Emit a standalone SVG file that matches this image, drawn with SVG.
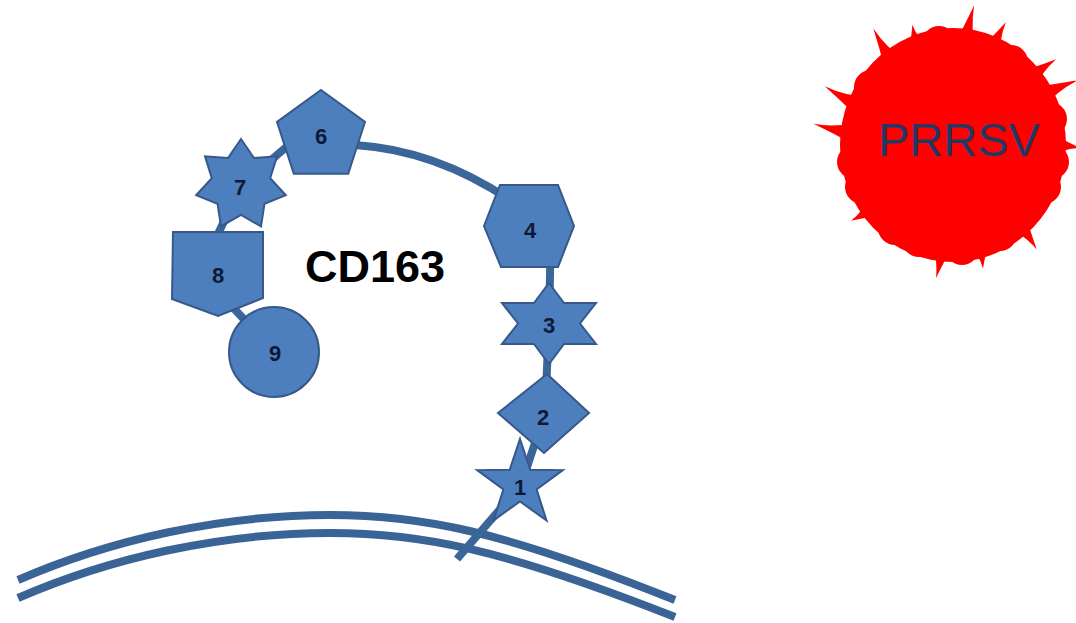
<svg xmlns="http://www.w3.org/2000/svg" xmlns:xlink="http://www.w3.org/1999/xlink" width="1076" height="623" viewBox="0 0 1076 623">
  <style>
    .membrane { fill: none; stroke: #3a6496; stroke-width: 8; stroke-linecap: butt; }
    .link { fill: none; stroke: #3b6699; stroke-width: 8; stroke-linecap: butt; stroke-linejoin: round; }
    .domain { fill: #4d7fbe; stroke: #36598a; stroke-width: 2; stroke-linejoin: miter; }
    .num { font-family: "Liberation Sans", Arial, sans-serif; font-weight: bold; font-size: 22px; fill: #0e1a34; text-anchor: middle; }
    .title { font-family: "Liberation Sans", Arial, sans-serif; font-weight: bold; font-size: 45px; fill: #000000; }
    .virus { fill: #ff0000; }
    .virus-label { font-family: "Liberation Sans", Arial, sans-serif; font-size: 47px; fill: #1f3864; }
  </style>
  <defs>
    <!-- curved horn-like spikes of the virus particle, pointing along +x -->
    <path id="spikeS" d="M98,-12 Q114,-3 127,3 Q113,3 98,11 Z"/>
    <path id="spikeM" d="M98,-12 Q117,-3 134,3 Q116,3 98,11 Z"/>
    <path id="spikeL" d="M98,-12 Q120,-3 141,4 Q118,3 98,11 Z"/>
    <!-- broad lobe that makes the rim wavy -->
    <circle id="lobe" cx="0" cy="0" r="17"/>
  </defs>

  <rect width="1076" height="623" fill="#ffffff"/>

  <!-- cell membrane (lipid bilayer) -->
  <g id="membrane">
    <path class="membrane" d="M18,580 C110,540 220,515 330,515 C420,515 500,530 675,600"/>
    <path class="membrane" d="M18,598 C110,558 220,533 330,533 C420,533 500,548 675,617"/>
  </g>

  <!-- chain linking the domains -->
  <g id="connectors">
    <path class="link" d="M457,559 L521,485 L545,413 L549,324 L551,226"/>
    <path class="link" d="M529,226 L510,200 Q435,150 355,145 L321,140"/>
    <path class="link" d="M321,136 L298,137 L241,186"/>
    <path class="link" d="M241,186 L217,236"/>
    <path class="link" d="M218,280 L228,302 L274,352"/>
  </g>

  <g id="domain1">
    <polygon class="domain" points="520,439 530.3,469.8 562.8,470.1 536.6,489.4 546.5,520.4 520,501.5 493.5,520.4 503.4,489.4 477.2,470.1 509.7,469.8"/>
    <text class="num" x="520" y="495">1</text>
  </g>
  <g id="domain2">
    <polygon class="domain" points="547,374 589,413 544,453 498,413"/>
    <text class="num" x="543" y="425">2</text>
  </g>
  <g id="domain3">
    <polygon class="domain" points="549,283 564,303 596,303 580,323.5 596,344 564,344 549,364 534,344 502,344 518,323.5 502,303 534,303"/>
    <text class="num" x="549" y="333">3</text>
  </g>
  <g id="domain4">
    <polygon class="domain" points="500,185 558,185 574,226 558,267 501,267 484,226"/>
    <text class="num" x="530" y="238">4</text>
  </g>
  <g id="domain6">
    <polygon class="domain" points="321,90 365,122 348.2,173.8 293.8,173.8 277,122"/>
    <text class="num" x="321" y="144">6</text>
  </g>
  <g id="domain7">
    <polygon class="domain" points="241,139 254,158 277,156.3 270.2,178.3 285.8,195.2 264.5,203.7 261,226.4 241,215 221,226.4 217.5,203.7 196.2,195.2 211.8,178.3 205,156.3 228,158"/>
    <text class="num" x="240" y="195">7</text>
  </g>
  <g id="domain8">
    <polygon class="domain" points="173,232 263,232 263,298 218,316 172,299"/>
    <text class="num" x="218" y="283">8</text>
  </g>
  <g id="domain9">
    <circle class="domain" cx="274" cy="352" r="45"/>
    <text class="num" x="275" y="361">9</text>
  </g>

  <text id="cd163-label" class="title" x="305" y="282">CD163</text>

  <!-- virus particle: body, wavy rim and spikes -->
  <g id="prrsv">
    <g class="virus" transform="translate(953,145)">
      <ellipse cx="0" cy="0" rx="113" ry="117"/>
      <use xlink:href="#lobe" x="99" y="17"/>
      <use xlink:href="#lobe" x="91" y="42"/>
      <use xlink:href="#lobe" x="47" y="89"/>
      <use xlink:href="#lobe" x="9" y="103"/>
      <use xlink:href="#lobe" x="-34" y="95"/>
      <use xlink:href="#lobe" x="-58" y="83"/>
      <use xlink:href="#lobe" x="-91" y="42"/>
      <use xlink:href="#lobe" x="-99" y="17"/>
      <use xlink:href="#lobe" x="-82" y="-58"/>
      <use xlink:href="#lobe" x="-14" y="-102"/>
      <use xlink:href="#lobe" x="58" y="-83"/>
      <use xlink:href="#lobe" x="97" y="-26"/>
      <use xlink:href="#spikeL" transform="rotate(234)"/>
      <use xlink:href="#spikeS" transform="rotate(250)"/>
      <use xlink:href="#spikeL" transform="rotate(277)"/>
      <use xlink:href="#spikeM" transform="rotate(292)"/>
      <use xlink:href="#spikeM" transform="rotate(319)"/>
      <use xlink:href="#spikeL" transform="rotate(331)"/>
      <use xlink:href="#spikeS" transform="rotate(0)"/>
      <use xlink:href="#spikeM" transform="rotate(50)"/>
      <use xlink:href="#spikeS" transform="rotate(75)"/>
      <use xlink:href="#spikeM" transform="rotate(96)"/>
      <use xlink:href="#spikeS" transform="rotate(142)"/>
      <use xlink:href="#spikeL" transform="rotate(187)"/>
      <use xlink:href="#spikeL" transform="rotate(203)"/>
    </g>
    <text class="virus-label" x="878" y="156">PRRSV</text>
  </g>
</svg>
